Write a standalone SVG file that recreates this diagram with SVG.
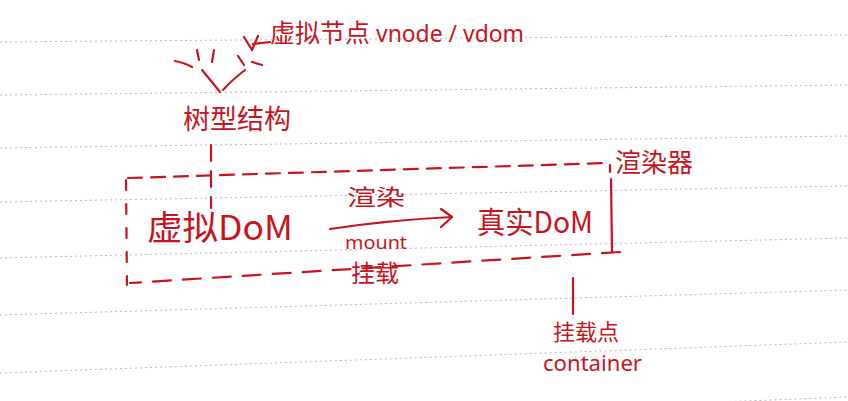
<svg xmlns="http://www.w3.org/2000/svg" width="848" height="401" viewBox="0 0 848 401">
<style>
.paper{stroke:#b8b8b8;stroke-width:1;stroke-dasharray:2 3;fill:none}
.ink{stroke:#c8141e;stroke-width:2.2;fill:none;stroke-linecap:round;stroke-linejoin:round}
.cjk{font-family:"Noto Sans CJK SC","Noto Sans",sans-serif;fill:#c8141e}
.lat{font-family:"Noto Sans","Liberation Sans",sans-serif;fill:#c8141e}
</style>
<rect width="848" height="401" fill="#ffffff"/>
<g id="paper-lines">
<line class="paper" x1="0" y1="42" x2="848" y2="35"/>
<line class="paper" x1="0" y1="95" x2="848" y2="85"/>
<line class="paper" x1="0" y1="148" x2="848" y2="136"/>
<line class="paper" x1="0" y1="202" x2="848" y2="186"/>
<line class="paper" x1="0" y1="258" x2="848" y2="238"/>
<line class="paper" x1="0" y1="315" x2="848" y2="290"/>
<line class="paper" x1="0" y1="373" x2="848" y2="342"/>
<line class="paper" x1="0" y1="430" x2="848" y2="397"/>
</g>
<g id="tree-sketch">
<path class="ink" d="M175,61 Q185,63 192,67"/>
<path class="ink" d="M202,70 Q212,82 220,92"/>
<path class="ink" d="M245,70 Q232,80 223,90"/>
<path class="ink" d="M197,50 L199,60"/>
<path class="ink" d="M214,50 L212,62"/>
<path class="ink" d="M238,56 L244,65"/>
<path class="ink" d="M252,62 L262,65"/>
<path class="ink" d="M244,37 L252,50"/>
<path class="ink" d="M258,36 L252,50"/>
<path class="ink" d="M253,44 L270,42"/>
</g>
<g id="vnode-label">
<text class="cjk" x="270" y="42" font-size="25">虚拟节点</text>
<text class="lat" x="376" y="42" font-size="24" textLength="148" lengthAdjust="spacingAndGlyphs">vnode / vdom</text>
</g>
<g id="tree-label">
<text class="cjk" x="183" y="129" font-size="27">树型结构</text>
</g>
<g id="renderer">
<path class="ink" d="M128,178 L608,163" stroke-dasharray="14 9"/>
<path class="ink" d="M610,165 L610,172 M611,179 L612,252"/>
<path class="ink" d="M620,252 L130,283" stroke-dasharray="18 12"/>
<path class="ink" d="M126,180 L127,285" stroke-dasharray="10 14"/>
<text class="cjk" x="615" y="172" font-size="26">渲染器</text>
</g>
<g id="virtual-dom">
<text class="cjk" x="147" y="240" font-size="34" textLength="146" lengthAdjust="spacingAndGlyphs">虚拟DoM</text>
</g>
<g id="real-dom">
<text class="cjk" x="477" y="233" font-size="30" textLength="116" lengthAdjust="spacingAndGlyphs">真实DoM</text>
</g>
<g id="container-label">
<text class="cjk" x="553" y="340" font-size="22">挂载点</text>
<text class="lat" x="543" y="371" font-size="22" textLength="99" lengthAdjust="spacingAndGlyphs">container</text>
</g>
<g id="connectors">
<path class="ink" d="M211,145 L211,208" stroke-dasharray="16 10"/>
<path class="ink" d="M330,229 Q390,220 452,217"/>
<path class="ink" d="M441,209 L452,217 L441,227"/>
<path class="ink" d="M573,278 L573,314" stroke-width="2.6"/>
<text class="cjk" x="347" y="205" font-size="22" textLength="58" lengthAdjust="spacingAndGlyphs">渲染</text>
<text class="lat" x="345" y="249" font-size="18" textLength="62" lengthAdjust="spacingAndGlyphs">mount</text>
<text class="cjk" x="351" y="282" font-size="24">挂载</text>
</g>
</svg>
